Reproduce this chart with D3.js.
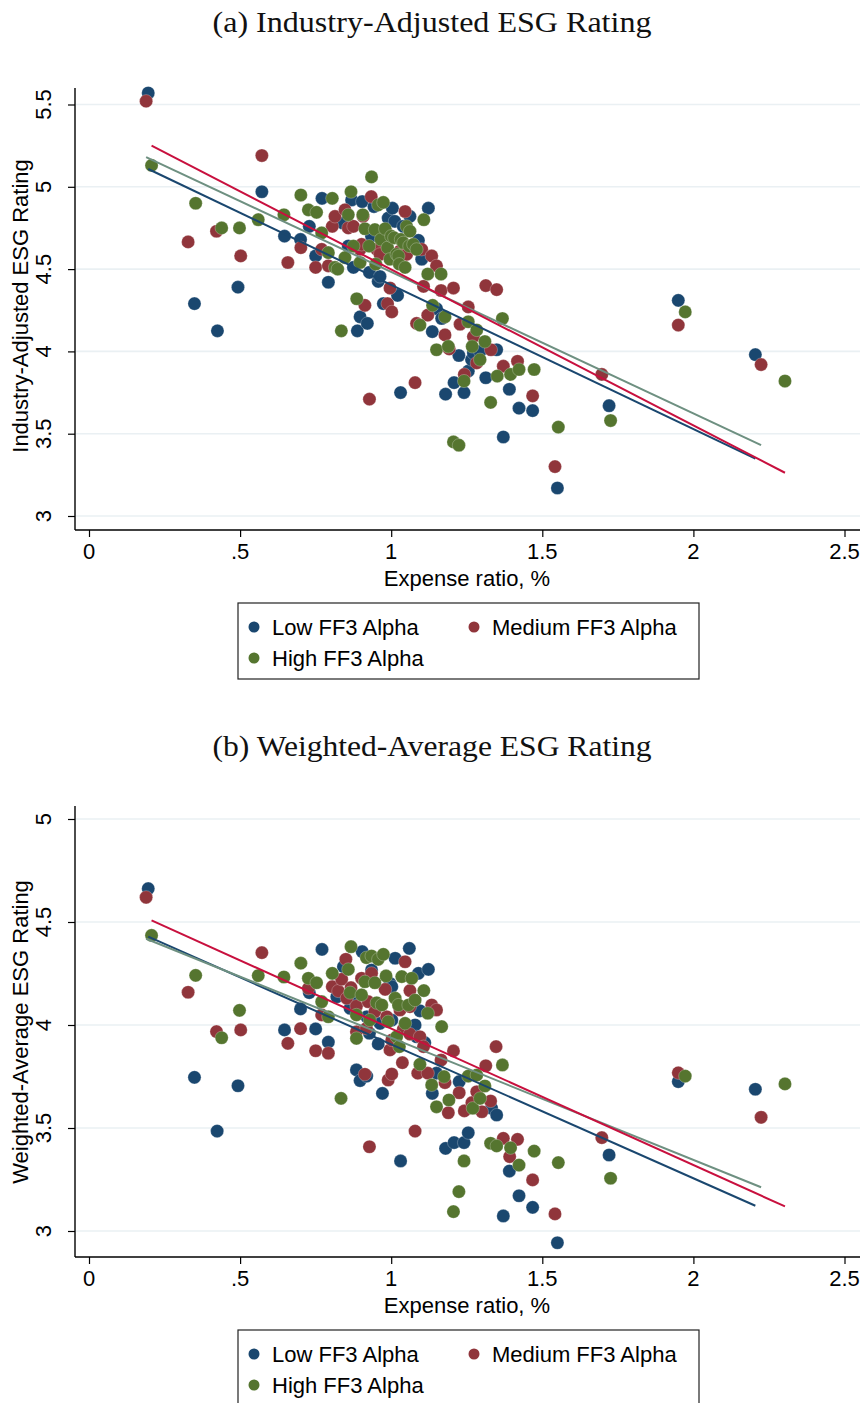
<!DOCTYPE html>
<html>
<head>
<meta charset="utf-8">
<script src="https://cdn.jsdelivr.net/npm/d3@7"></script>
<style>
    body { margin: 0; background: #fff; }
    text { font-family: "Liberation Sans", Arial, sans-serif; }
</style>
</head>
<body>
<div class="chart"></div>
<script>
(function() {

    // groups, in the order Stata draws them
    var groups = ["low", "med", "high"];
    var groupLabels = ["Low FF3 Alpha", "Medium FF3 Alpha", "High FF3 Alpha"];

    var xTicks = [0, 0.5, 1, 1.5, 2, 2.5];
    var yTicksA = [3, 3.5, 4, 4.5, 5, 5.5];
    var yTicksB = [3, 3.5, 4, 4.5, 5];

    // (a) industry-adjusted rating: [expense ratio, rating]
    var lowA = [[0.196,5.57],[0.349,4.29],[0.425,4.125],[0.493,4.39],[0.572,4.97],[0.647,4.70],[0.700,4.68],[0.729,4.76],
        [0.750,4.58],[0.771,4.93],[0.792,4.42],[0.84,4.78],[0.858,4.64],[0.869,4.92],[0.875,4.51],[0.888,4.125],[0.897,4.21],
        [0.904,4.91],[0.921,4.17],[0.928,4.48],[0.935,4.70],[0.943,4.88],[0.957,4.425],[0.963,4.455],[0.974,4.29],[0.990,4.81],
        [1.004,4.87],[1.012,4.79],[1.021,4.34],[1.031,3.75],[1.040,4.76],[1.062,4.82],[1.090,4.675],[1.101,4.56],[1.123,4.87],
        [1.136,4.12],[1.150,4.26],[1.167,4.20],[1.180,3.74],[1.208,3.81],[1.224,3.975],[1.241,3.75],[1.255,3.88],[1.266,3.95],
        [1.272,3.99],[1.294,4.00],[1.313,3.84],[1.349,4.01],[1.371,3.48],[1.391,3.77],[1.423,3.655],[1.468,3.64],[1.550,3.17],
        [1.721,3.67],[1.950,4.31],[2.205,3.98]];
    var medA = [[0.189,5.52],[0.328,4.665],[0.422,4.73],[0.502,4.58],[0.572,5.19],[0.658,4.54],[0.701,4.63],[0.750,4.51],
        [0.770,4.62],[0.792,4.52],[0.805,4.76],[0.814,4.82],[0.847,4.86],[0.858,4.75],[0.875,4.76],[0.897,4.62],[0.902,4.65],
        [0.907,4.82],[0.913,4.28],[0.928,3.71],[0.934,4.94],[0.952,4.62],[0.963,4.59],[0.985,4.72],[0.988,4.29],[0.996,4.385],
        [1.002,4.24],[1.029,4.61],[1.046,4.85],[1.051,4.59],[1.079,3.81],[1.084,4.17],[1.101,4.62],[1.107,4.395],[1.121,4.22],
        [1.134,4.58],[1.150,4.52],[1.165,4.37],[1.178,4.10],[1.192,4.015],[1.206,4.385],[1.228,4.165],[1.242,3.86],[1.255,4.27],
        [1.272,4.09],[1.283,3.93],[1.313,4.40],[1.330,4.01],[1.349,4.375],[1.371,3.91],[1.418,3.94],[1.468,3.73],[1.542,3.30],
        [1.697,3.86],[1.950,4.16],[2.224,3.92]];
    var highA = [[0.207,5.13],[0.353,4.90],[0.439,4.75],[0.498,4.75],[0.560,4.80],[0.645,4.83],[0.701,4.95],[0.726,4.86],
        [0.753,4.845],[0.770,4.72],[0.792,4.60],[0.805,4.93],[0.814,4.51],[0.823,4.50],[0.835,4.125],[0.847,4.57],[0.858,4.83],
        [0.867,4.97],[0.875,4.64],[0.886,4.32],[0.897,4.54],[0.906,4.83],[0.913,4.745],[0.927,4.64],[0.935,5.06],[0.946,4.74],
        [0.949,4.53],[0.957,4.89],[0.966,4.68],[0.974,4.905],[0.980,4.745],[0.988,4.63],[0.996,4.56],[1.00,4.70],[1.010,4.69],
        [1.018,4.59],[1.024,4.58],[1.027,4.53],[1.032,4.68],[1.04,4.66],[1.046,4.51],[1.051,4.76],[1.06,4.64],[1.062,4.73],
        [1.073,4.65],[1.084,4.62],[1.095,4.16],[1.108,4.80],[1.121,4.47],[1.137,4.28],[1.150,4.01],[1.165,4.47],[1.178,4.21],
        [1.189,4.03],[1.206,3.45],[1.224,3.43],[1.241,3.82],[1.255,4.18],[1.268,4.03],[1.283,4.13],[1.294,3.95],[1.310,4.06],
        [1.329,3.69],[1.351,3.85],[1.368,4.20],[1.395,3.86],[1.423,3.89],[1.473,3.89],[1.553,3.54],[1.726,3.58],[1.973,4.24],
        [2.303,3.82]];

    // (b) weighted-average rating
    var lowB = [[0.196,4.662],[0.349,3.746],[0.424,3.485],[0.493,3.705],[0.647,3.976],[0.700,4.078],[0.729,4.157],[0.750,3.981],
        [0.771,4.367],[0.792,3.917],[0.820,4.137],[0.842,4.283],[0.864,4.081],[0.875,4.125],[0.885,3.782],[0.897,3.730],
        [0.904,4.356],[0.919,3.752],[0.919,4.04],[0.928,3.96],[0.935,4.267],[0.957,3.908],[0.963,4.008],[0.971,3.668],
        [0.996,4.202],[1.002,4.024],[1.002,4.186],[1.013,4.324],[1.031,3.34],[1.060,4.372],[1.079,4.0],[1.084,3.943],
        [1.090,4.251],[1.095,4.069],[1.111,3.914],[1.123,4.270],[1.136,3.668],[1.150,3.766],[1.180,3.401],[1.208,3.429],
        [1.225,3.725],[1.241,3.429],[1.255,3.477],[1.332,3.596],[1.349,3.563],[1.371,3.073],[1.391,3.291],[1.423,3.171],
        [1.468,3.115],[1.550,2.943],[1.721,3.369],[1.950,3.725],[2.205,3.688]];
    var medB = [[0.189,4.62],[0.328,4.159],[0.422,3.968],[0.502,3.976],[0.572,4.351],[0.658,3.911],[0.700,3.982],[0.726,4.178],
        [0.750,3.875],[0.770,4.049],[0.792,3.863],[0.805,4.186],[0.825,4.165],[0.836,4.222],[0.850,4.319],[0.853,4.13],
        [0.867,4.181],[0.885,4.092],[0.885,3.967],[0.902,4.227],[0.913,3.761],[0.918,3.984],[0.924,4.113],[0.928,3.409],
        [0.935,4.251],[0.946,4.065],[0.980,4.173],[0.985,4.04],[0.990,3.733],[0.996,3.879],[1.002,3.927],[1.002,3.762],
        [1.029,4.073],[1.037,3.817],[1.040,3.979],[1.046,4.307],[1.062,4.167],[1.062,4.089],[1.062,3.956],[1.079,3.485],
        [1.088,3.766],[1.095,3.943],[1.107,3.895],[1.121,3.766],[1.134,4.097],[1.150,4.073],[1.165,3.83],[1.178,3.72],
        [1.189,3.574],[1.206,3.874],[1.225,3.671],[1.242,3.583],[1.267,3.623],[1.283,3.676],[1.300,3.579],[1.313,3.802],
        [1.329,3.631],[1.347,3.895],[1.371,3.45],[1.392,3.361],[1.418,3.445],[1.468,3.248],[1.542,3.083],[1.697,3.453],
        [1.950,3.768],[2.224,3.552]];
    var highB = [[0.207,4.435],[0.353,4.241],[0.439,3.938],[0.498,4.071],[0.560,4.24],[0.645,4.233],[0.701,4.30],[0.726,4.227],
        [0.753,4.205],[0.770,4.113],[0.792,4.04],[0.805,4.251],[0.834,3.644],[0.858,4.270],[0.864,4.157],[0.867,4.38],
        [0.885,4.049],[0.885,3.935],[0.902,4.146],[0.913,4.21],[0.918,4.327],[0.929,4.024],[0.935,4.335],[0.946,4.205],
        [0.952,4.108],[0.957,4.319],[0.969,4.097],[0.974,4.343],[0.983,4.238],[0.990,4.016],[1.013,4.13],[1.018,3.943],
        [1.024,4.097],[1.027,3.895],[1.035,4.235],[1.046,4.008],[1.057,4.097],[1.068,4.227],[1.079,4.121],[1.095,3.809],
        [1.108,4.167],[1.121,4.057],[1.134,3.709],[1.150,3.603],[1.167,3.992],[1.175,3.749],[1.191,3.636],[1.206,3.094],
        [1.224,3.191],[1.241,3.34],[1.255,3.752],[1.270,3.596],[1.283,3.757],[1.294,3.644],[1.310,3.704],[1.329,3.426],
        [1.349,3.413],[1.368,3.806],[1.395,3.404],[1.423,3.32],[1.473,3.388],[1.553,3.332],[1.726,3.256],[1.973,3.752],
        [2.303,3.714]];

    // linear fits: [intercept, slope] per group
    var fitA = [[5.28, -0.876], [5.343, -0.86], [5.446, -0.948]];
    var fitB = [[4.556, -0.650], [4.531, -0.593], [4.645, -0.6625]];

    var markerColor = ["#1a476f", "#90353b", "#55752f"];
    var fitColor = ["#1a476f", "#6e9081", "#c8103e"];

    var svg = d3.select(".chart")
        .append("svg")
        .attr("width", 865)
        .attr("height", 1403);

    var fmt = function(d) { return String(d).replace(/^0\./, "."); };

    var drawPanel = function(p) {
        var g = svg.append("g");

        // x scale: 0 -> 89px, 2.5 -> 844.5px, axis runs 75..860
        var x = d3.scaleLinear().domain([0, 2.5]).range([89, 844.5]);
        var y = d3.scaleLinear().domain([3, p.yTicks[p.yTicks.length - 1]]).range(p.yRange);

        g.append("text")
            .attr("x", 432)
            .attr("y", p.top + 32)
            .attr("text-anchor", "middle")
            .attr("textLength", 439)
            .attr("lengthAdjust", "spacingAndGlyphs")
            .style("font-family", "'Liberation Serif', 'DejaVu Serif', serif")
            .style("font-size", "29px")
            .attr("fill", "#111")
            .text(p.title);

        // grid
        g.selectAll(".grid")
            .data(p.yTicks)
            .enter().append("line")
            .attr("x1", 76).attr("x2", 860)
            .attr("y1", function(d) { return y(d); })
            .attr("y2", function(d) { return y(d); })
            .attr("stroke", "#eaf0f3")
            .attr("stroke-width", 1.6);

        // scatter
        p.series.forEach(function(pts, i) {
            g.append("g").selectAll("circle")
                .data(pts)
                .enter().append("circle")
                .attr("cx", function(d) { return x(d[0]); })
                .attr("cy", function(d) { return y(d[1]); })
                .attr("r", 6.6)
                .attr("fill", markerColor[i])
                .attr("stroke", "#fff")
                .attr("stroke-width", 0.5)
                .attr("stroke-opacity", 0.5);
        });

        // fitted lines over the observed x range of each group
        p.fits.forEach(function(f, i) {
            var ext = d3.extent(p.series[i], function(d) { return d[0]; });
            g.append("line")
                .attr("x1", x(ext[0])).attr("y1", y(f[0] + f[1] * ext[0]))
                .attr("x2", x(ext[1])).attr("y2", y(f[0] + f[1] * ext[1]))
                .attr("stroke", fitColor[i])
                .attr("stroke-width", 2);
        });

        // axes
        var xAxis = g.append("g")
            .attr("transform", "translate(0," + p.axisY + ")")
            .call(d3.axisBottom(x).tickValues(xTicks).tickSize(7).tickSizeOuter(0).tickFormat(""));
        xAxis.select(".domain").remove();
        xAxis.selectAll("line").attr("stroke", "#000").attr("stroke-width", 1.2);

        var yAxis = g.append("g")
            .attr("transform", "translate(75,0)")
            .call(d3.axisLeft(y).tickValues(p.yTicks).tickSize(7).tickSizeOuter(0).tickFormat(""));
        yAxis.select(".domain").remove();
        yAxis.selectAll("line").attr("stroke", "#000").attr("stroke-width", 1.2);

        g.append("line")
            .attr("x1", 75).attr("x2", 860)
            .attr("y1", p.axisY).attr("y2", p.axisY)
            .attr("stroke", "#000").attr("stroke-width", 1.4);
        g.append("line")
            .attr("x1", 75).attr("x2", 75)
            .attr("y1", p.plotTop).attr("y2", p.axisY)
            .attr("stroke", "#000").attr("stroke-width", 1.4);

        g.selectAll(".xlab")
            .data(xTicks)
            .enter().append("text")
            .attr("x", function(d) { return x(d); })
            .attr("y", p.axisY + 29)
            .attr("text-anchor", "middle")
            .style("font-size", "22px")
            .text(fmt);

        g.selectAll(".ylab")
            .data(p.yTicks)
            .enter().append("text")
            .attr("transform", function(d) { return "translate(51," + y(d) + ") rotate(-90)"; })
            .attr("text-anchor", "middle")
            .style("font-size", "22px")
            .text(fmt);

        g.append("text")
            .attr("x", 467)
            .attr("y", p.axisY + 56)
            .attr("text-anchor", "middle")
            .style("font-size", "22px")
            .text("Expense ratio, %");

        g.append("text")
            .attr("transform", "translate(28," + p.yLabelY + ") rotate(-90)")
            .attr("text-anchor", "middle")
            .style("font-size", "22px")
            .text(p.yLabel);

        // legend
        var legendY = p.axisY + 73;
        g.append("rect")
            .attr("x", 238).attr("y", legendY)
            .attr("width", 461).attr("height", 76)
            .attr("fill", "#fff")
            .attr("stroke", "#222")
            .attr("stroke-width", 1.2);

        var pos = [[254, 24], [474, 24], [254, 55]];
        var legend = g.selectAll(".legend")
            .data(groupLabels)
            .enter().append("g")
            .attr("transform", function(d, i) { return "translate(" + pos[i][0] + "," + (legendY + pos[i][1]) + ")"; });
        legend.append("circle")
            .attr("r", 5.5)
            .attr("fill", function(d, i) { return markerColor[i]; });
        legend.append("text")
            .attr("x", 18)
            .attr("y", 8)
            .style("font-size", "22px")
            .text(function(d) { return d; });
    };

    drawPanel({
        title: "(a) Industry-Adjusted ESG Rating",
        yLabel: "Industry-Adjusted ESG Rating",
        top: 0,
        plotTop: 88,
        axisY: 530,
        yLabelY: 306,
        yRange: [516, 104.5],
        yTicks: yTicksA,
        series: [lowA, medA, highA],
        fits: fitA
    });

    drawPanel({
        title: "(b) Weighted-Average ESG Rating",
        yLabel: "Weighted-Average ESG Rating",
        top: 724,
        plotTop: 806,
        axisY: 1257,
        yLabelY: 1032,
        yRange: [1231, 819],
        yTicks: yTicksB,
        series: [lowB, medB, highB],
        fits: fitB
    });

})();
</script>
</body>
</html>
